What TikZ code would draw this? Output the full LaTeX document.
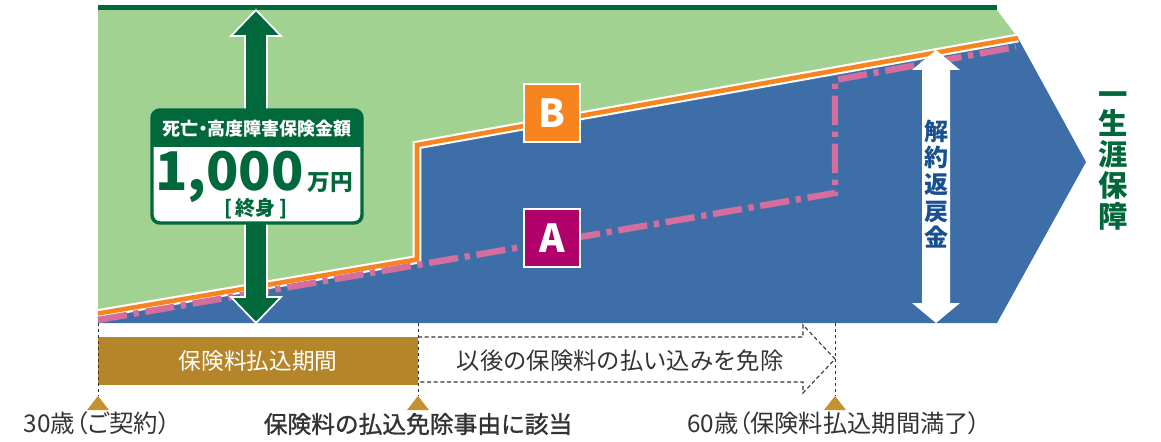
\documentclass[tikz,border=0pt]{standalone}
\usepackage{fontspec}
\usetikzlibrary{calc}
\setmainfont{Noto Sans CJK JP}
\newfontfamily\jpp[RawFeature=+palt]{Noto Sans CJK JP}
\newfontfamily\jpm[FakeBold=1.2]{Noto Sans CJK JP}
\definecolor{lgreen}{RGB}{161,210,145}
\definecolor{dgreen}{RGB}{0,104,58}
\definecolor{blu}{RGB}{61,110,168}
\definecolor{orng}{RGB}{247,132,31}
\definecolor{pnk}{RGB}{211,110,158}
\definecolor{gold}{RGB}{181,133,42}
\definecolor{tri}{RGB}{196,146,47}
\definecolor{mag}{RGB}{176,0,106}
\definecolor{txt}{RGB}{51,51,51}
\definecolor{dblue}{RGB}{24,80,145}
\tikzset{
  letterbox/.style={draw=white, line width=1.5pt, minimum width=42pt, minimum height=44pt, inner sep=0pt, text=white, font=\bfseries\fontsize{29}{29}\selectfont},
  tick/.style={txt, line width=0.7pt, dash pattern=on 2.5pt off 2pt},
  marker/.style={fill=tri},
  lbl/.style={text=txt, inner sep=0pt}
}
\begin{document}
\begin{tikzpicture}[x=0.75pt,y=-0.75pt]
\useasboundingbox (0,0) rectangle (1161,442);
% green area
\fill[lgreen] (98,10) -- (997,10) -- (1018,38) -- (417,145) -- (417,259) -- (98,313) -- cycle;
\draw[dgreen, line width=3.75pt] (98,7.5) -- (997,7.5);
% blue area
\fill[blu] (98,313) -- (417,259) -- (417,145) -- (1018,38) -- (1086,162) -- (997,323) -- (98,323) -- cycle;
% orange line B
\draw[white, line width=6.6pt] (98,313.5) -- (417,259.5) -- (417,145) -- (1018,38);
\draw[orng, line width=3.4pt] (98,313.5) -- (417,259.5) -- (417,145) -- (1018,38);
% pink line A
\draw[pnk, line width=4.8pt, dash pattern=on 22pt off 5pt on 4pt off 5pt] (98,320) -- (835,193) -- (835,80) -- (1016,47);
% green double arrow
\filldraw[fill=dgreen, draw=white, line width=1.3pt] (256,10) -- (281,36) -- (267,36) -- (267,297) -- (281,297) -- (256,323) -- (231,297) -- (245,297) -- (245,36) -- (231,36) -- cycle;
% white double arrow
\fill[white] (936,50) -- (960,70) -- (950,70) -- (950,303) -- (960,303) -- (936,323) -- (912,303) -- (922,303) -- (922,70) -- (912,70) -- cycle;
% amount box
\fill[white, rounded corners=6pt] (152,110) rectangle (362,223);
\fill[dgreen] (152,147) [rounded corners=6pt]-- (152,110) -- (362,110) [sharp corners]-- (362,147) -- cycle;
\draw[dgreen, line width=2.6pt, rounded corners=6pt] (152,110) rectangle (362,223);
\node[text=white, inner sep=0pt, font=\jpp\bfseries\fontsize{13.5}{13.5}\selectfont] (hdr) at (257,129) {死亡・高度障害保険金額};
\node[text=dgreen, anchor=base, inner sep=0pt] (amt) at (254,191) {\fontsize{40}{40}\selectfont\bfseries 1,000\hspace{3pt}\fontsize{17}{17}\selectfont 万円};
\node[text=dgreen, inner sep=0pt, font=\bfseries\fontsize{15}{15}\selectfont] (life) at (256,209) {[\,終身\,]};
% labels B and A
\node[letterbox, fill=orng] (B) at (552,113) {B};
\node[letterbox, fill=mag] (A) at (552,238) {A};
% vertical texts
\node[text=dblue, align=center, inner sep=0pt, font=\bfseries\fontsize{18}{20}\selectfont] (surr) at (936,184) {解\\約\\返\\戻\\金};
\node[text=dgreen, inner sep=0pt, font=\bfseries\fontsize{22}{22}\selectfont] (whole1) at (1113,99) {一};
\node[text=dgreen, align=center, inner sep=0pt, font=\bfseries\fontsize{22}{23.3}\selectfont] (whole) at (1113,170) {生\\涯\\保\\障};
% timeline
\node[fill=gold, minimum width=240pt, minimum height=36pt, inner sep=0pt, text=white, font=\fontsize{17}{17}\selectfont] (pay) at (258,361) {保険料払込期間};
\coordinate (c30) at (98,396);
\coordinate (cmid) at (418,396);
\coordinate (c60) at (835,396);
\coordinate (t30) at (98,323);
\coordinate (tmid) at (418,323);
\coordinate (t60) at (835,323);
\draw[tick] (t30) -- (c30);
\draw[tick] (tmid) -- (cmid);
\draw[tick] (t60) -- (c60);
\draw[txt, line width=0.8pt, dash pattern=on 3pt off 2pt] (418,337) -- (803,337) -- (803,325) -- (835,359) -- (803,393) -- (803,382) -- (418,382);
\node[lbl, font=\fontsize{17.5}{17.5}\selectfont] (waive) at (620,361) {以後の保険料の払い込みを免除};
\foreach \c in {c30,cmid,c60} {
  \fill[marker] ($(\c)+(-11,14)$) -- (\c) -- ($(\c)+(11,14)$) -- cycle;
}
\node[lbl, font=\jpp\fontsize{18.3}{18.3}\selectfont] (l30) at (97,423) {30歳（ご契約）};
\node[lbl, font=\jpm\fontsize{17.8}{17.8}\selectfont] (lmid) at (418,424) {保険料の払込免除事由に該当};
\node[lbl, font=\jpp\fontsize{18.2}{18.2}\selectfont] (l60) at (834,423) {60歳（保険料払込期間満了）};
\end{tikzpicture}
\end{document}
